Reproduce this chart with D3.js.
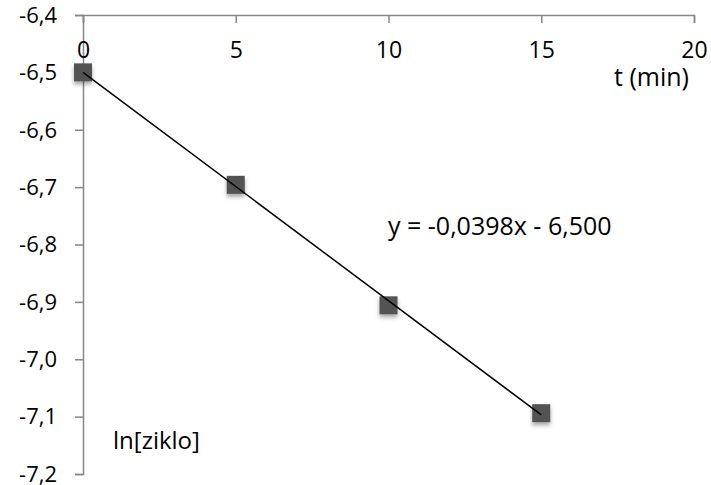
<!DOCTYPE html>
<html>
<head>
<meta charset="utf-8">
<script src="https://cdn.jsdelivr.net/npm/d3@7"></script>
<style>
  body { margin: 0; background: #fff; }
  svg text { font-family: "Open Sans", sans-serif; fill: #000; }
</style>
</head>
<body>
<svg id="chart" width="711" height="485"></svg>
<script>
// data
const times = [0, 5, 10, 15];
const lnZiklo = [-6.5, -6.696, -6.906, -7.094];
const xTicks = [0, 5, 10, 15, 20];
const yTicks = [-6.4, -6.5, -6.6, -6.7, -6.8, -6.9, -7.0, -7.1, -7.2];
const slope = -0.0398, intercept = -6.5;
const eqLabel = 'y = -0,0398x - 6,500';

const svg = d3.select('#chart');

const x = d3.scaleLinear().domain([0, 20]).range([83, 694]);
const y = d3.scaleLinear().domain([-6.4, -7.2]).range([15, 474]);

const axisColor = '#868686';
const fmt = d => d3.format('.1f')(d).replace('.', ',').replace('−', '-');

// y axis (left, at x = 0)
const yAxis = svg.append('g')
    .attr('transform', `translate(${x(0)},0)`)
    .call(d3.axisLeft(y).tickValues(yTicks).tickSize(8).tickPadding(18).tickFormat(fmt));
yAxis.select('.domain').attr('stroke', axisColor).attr('stroke-width', 1.5);
yAxis.selectAll('.tick line').attr('stroke', axisColor).attr('stroke-width', 1.5);
yAxis.selectAll('.tick text').style('font-size', '22px').attr('dy', '0.33em');

// x axis (top, at y = -6.4), labels below the line
const xAxis = svg.append('g')
    .attr('transform', `translate(0,${y(-6.4)})`)
    .call(d3.axisBottom(x).tickValues(xTicks).tickSizeOuter(0).tickSize(8).tickPadding(19).tickFormat(d3.format('d')));
xAxis.select('.domain').attr('stroke', axisColor).attr('stroke-width', 1.5);
xAxis.selectAll('.tick line').attr('stroke', axisColor).attr('stroke-width', 1.5);
xAxis.selectAll('.tick text').style('font-size', '23px');

// shadow filter for markers
const defs = svg.append('defs');
const f = defs.append('filter').attr('id', 'shadow').attr('x', '-50%').attr('y', '-50%').attr('width', '200%').attr('height', '200%');
f.append('feDropShadow').attr('dx', 0).attr('dy', 3).attr('stdDeviation', 2).attr('flood-color', '#000').attr('flood-opacity', 0.35);

// markers
const sz = 18;
svg.append('g').selectAll('rect')
    .data(times)
    .join('rect')
    .attr('x', (d) => x(d) - sz / 2)
    .attr('y', (d, i) => y(lnZiklo[i]) - sz / 2)
    .attr('width', sz)
    .attr('height', sz)
    .attr('fill', '#525252')
    .attr('filter', 'url(#shadow)');

// trend line
const tl = [0, 15];
svg.append('line')
    .attr('x1', x(tl[0])).attr('y1', y(slope * tl[0] + intercept))
    .attr('x2', x(tl[1])).attr('y2', y(slope * tl[1] + intercept))
    .attr('stroke', '#000').attr('stroke-width', 1.5);

// labels
svg.append('text').attr('x', 689).attr('y', 86).attr('text-anchor', 'end')
    .style('font-size', '25px').text('t (min)');
svg.append('text').attr('x', 388).attr('y', 235)
    .style('font-size', '25px').text(eqLabel);
svg.append('text').attr('x', 113).attr('y', 449)
    .style('font-size', '24px').text('ln[ziklo]');
</script>
</body>
</html>
